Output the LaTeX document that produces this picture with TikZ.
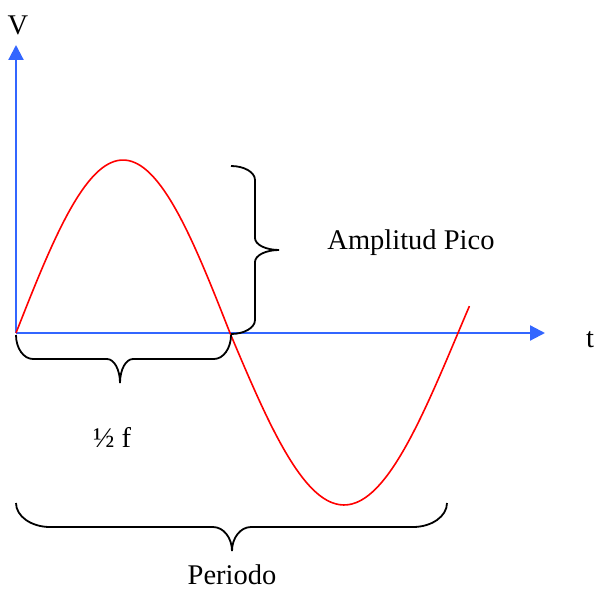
\documentclass[tikz,border=0pt]{standalone}
\usepackage{fontspec}
\setmainfont{Liberation Serif}
\usetikzlibrary{arrows.meta}
\definecolor{axisblue}{RGB}{51,102,255}

\begin{document}
\begin{tikzpicture}[
  x=1pt, y=1pt,
  axis/.style={axisblue, line width=2.2pt, -{Triangle[length=15pt, width=15pt]}},
  wave/.style={red, line width=1.6pt},
  brc/.style={line width=1.8pt, black},
  lbl/.style={inner sep=0pt},
  every node/.style={font=\fontsize{28.5}{32}\selectfont}
]
  \useasboundingbox (0,0) rectangle (594,592);

  % Axes
  \coordinate (O) at (16,259);
  \coordinate (ytip) at (16,547);
  \coordinate (xtip) at (545,259);
  \draw[axis] (O) -- (ytip);
  \draw[axis] (O) -- (xtip);
  \node[lbl] (V) at (18,567) {V};
  \node[lbl] (t) at (590,252) {t};

  % Sine wave
  \draw[wave] plot[domain=0:180, samples=60, smooth]
      ({16+\x*1.18889}, {259+173*sin(\x)});
  \draw[wave] plot[domain=180:369, samples=60, smooth]
      ({230+(\x-180)*1.26667}, {259+172*sin(\x)});

  % Brace: peak amplitude
  \coordinate (ampTop) at (231,426);
  \draw[brc] (ampTop)
    arc[start angle=90, end angle=0, x radius=24, y radius=14] -- ++(0,-58)
    arc[start angle=180, end angle=270, x radius=24, y radius=12]
    arc[start angle=90, end angle=180, x radius=24, y radius=12] -- ++(0,-58)
    arc[start angle=0, end angle=-90, x radius=24, y radius=14];
  \node[lbl] (amp) at (411,349) {Amplitud Pico};

  % Brace: half period
  \coordinate (halfL) at (16,257);
  \draw[brc] (halfL)
    arc[start angle=180, end angle=270, x radius=17, y radius=24] -- ++(74,0)
    arc[start angle=90, end angle=0, x radius=13, y radius=24]
    arc[start angle=180, end angle=90, x radius=13, y radius=24] -- ++(81,0)
    arc[start angle=270, end angle=360, x radius=17, y radius=24];
  \node[lbl] (half) at (112,155) {½ f};

  % Brace: period
  \coordinate (perL) at (16,89);
  \draw[brc] (perL)
    arc[start angle=180, end angle=270, x radius=34, y radius=24] -- ++(163,0)
    arc[start angle=90, end angle=0, x radius=19, y radius=24]
    arc[start angle=180, end angle=90, x radius=19, y radius=24] -- ++(162,0)
    arc[start angle=270, end angle=360, x radius=34, y radius=24];
  \node[lbl] (per) at (232,17) {Periodo};
\end{tikzpicture}
\end{document}
